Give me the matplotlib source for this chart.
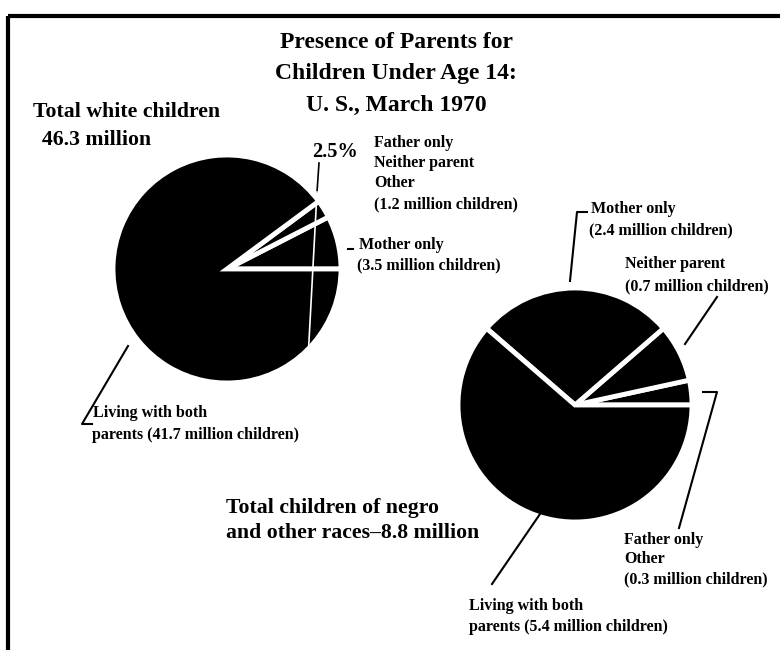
import matplotlib.pyplot as plt

# data (millions of children)
white_labels = ['Mother only', 'Father only / Neither parent / Other', 'Living with both parents']
white_values = [3.5, 1.2, 41.7]
white_total = 46.3

black_labels = ['Father only / Other', 'Neither parent', 'Mother only', 'Living with both parents']
black_values = [0.3, 0.7, 2.4, 5.4]
black_total = 8.8

serif = 'Liberation Serif'

fig = plt.figure(figsize=(7.8, 6.54), dpi=100)
ax = fig.add_axes([0, 0, 1, 1])

# y axis runs downward (pixel-like), so clockwise in data = counterclockwise on screen
wedge_style = dict(edgecolor='white', linewidth=3.5)
ax.pie(white_values, center=(227, 269), radius=114, startangle=0,
       counterclock=False, colors=['black'] * 3, wedgeprops=wedge_style, frame=True)
ax.pie(black_values, center=(575, 405), radius=117, startangle=0,
       counterclock=False, colors=['black'] * 4, wedgeprops=wedge_style, frame=True)

ax.set_xlim(0, 780)
ax.set_ylim(654, 0)
ax.set_aspect('equal')
ax.axis('off')

# frame of the page
ax.plot([8, 780], [16, 16], color='black', lw=3, solid_capstyle='butt')
ax.plot([8, 8], [16, 650], color='black', lw=3, solid_capstyle='butt')

big = dict(family=serif, fontsize=15.7, weight='bold', color='black')
title = dict(family=serif, fontsize=17, weight='bold', color='black')
small = dict(family=serif, fontsize=11.5, weight='bold', color='black')

# title
ax.text(396, 42, 'Presence of Parents for', ha='center', va='center', **title)
ax.text(396, 73, 'Children Under Age 14:', ha='center', va='center', **title)
ax.text(396, 105, 'U. S., March 1970', ha='center', va='center', **title)

# white children pie
ax.text(33, 112, 'Total white children', ha='left', va='center', **big)
ax.text(42, 140, f'{white_total} million', ha='left', va='center', **big)

ax.text(335, 152, '2.5%', ha='center', va='center', family=serif, fontsize=14.7,
        weight='bold', color='black')
ax.plot([319, 317], [163, 192], color='black', lw=1.2)
ax.plot([317, 307], [192, 378], color='white', lw=1.2)

ax.text(374, 143, 'Father only', ha='left', va='center', **small)
ax.text(374, 163, 'Neither parent', ha='left', va='center', **small)
ax.text(374, 183, 'Other', ha='left', va='center', **small)
ax.text(374, 204, f'({white_values[1]} million children)', ha='left', va='center', **small)

ax.plot([348, 353], [249, 249], color='black', lw=1.5)
ax.text(359, 245, 'Mother only', ha='left', va='center', **small)
ax.text(357, 265, f'({white_values[0]} million children)', ha='left', va='center', **small)

ax.plot([128, 82, 92], [346, 424, 424], color='black', lw=1.5)
ax.text(93, 413, 'Living with both', ha='left', va='center', **small)
ax.text(92, 435, f'parents ({white_values[2]} million children)', ha='left', va='center', **small)

# negro and other races pie
ax.text(226, 508, 'Total children of negro', ha='left', va='center', **big)
ax.text(226, 533, f'and other races\u2013{black_total} million', ha='left', va='center', **big)

ax.plot([587, 577, 570], [212, 212, 281], color='black', lw=1.5)
ax.text(591, 209, 'Mother only', ha='left', va='center', **small)
ax.text(589, 230, f'({black_values[2]} million children)', ha='left', va='center', **small)

ax.plot([717, 685], [297, 344], color='black', lw=1.5)
ax.text(625, 264, 'Neither parent', ha='left', va='center', **small)
ax.text(625, 286, f'({black_values[1]} million children)', ha='left', va='center', **small)

ax.plot([703, 717, 679], [392, 392, 528], color='black', lw=1.5)
ax.text(624, 540, 'Father only', ha='left', va='center', **small)
ax.text(624, 559, 'Other', ha='left', va='center', **small)
ax.text(624, 579, f'({black_values[0]} million children)', ha='left', va='center', **small)

ax.plot([540, 492], [514, 584], color='black', lw=1.5)
ax.text(469, 606, 'Living with both', ha='left', va='center', **small)
ax.text(469, 627, f'parents ({black_values[3]} million children)', ha='left', va='center', **small)

plt.savefig('out.png', dpi=100)
